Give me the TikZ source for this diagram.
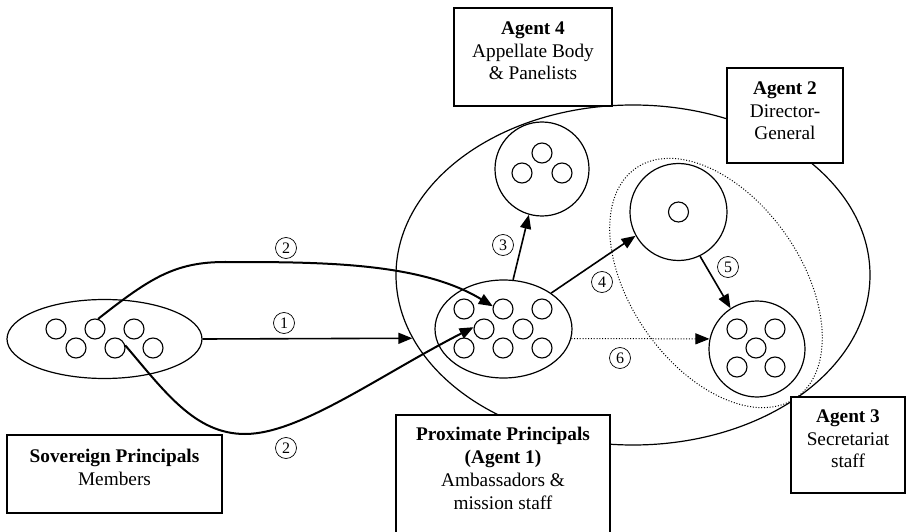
\documentclass[tikz,border=0pt]{standalone}
\usepackage{fontspec}
\setmainfont{Liberation Serif}
\usetikzlibrary{shapes.geometric,arrows.meta,positioning}
\tikzset{
  member/.style={circle,draw,line width=1.1pt,minimum size=20pt,inner sep=0pt},
  group/.style={ellipse,draw,line width=1.2pt,inner sep=0pt},
  agentcirc/.style={circle,draw,line width=1.2pt,inner sep=0pt},
  agentbox/.style={rectangle,draw,fill=white,line width=1.2pt,inner sep=0pt},
  boxtext/.style={align=center,inner sep=0pt,font=\fontsize{19.3}{22.8}\selectfont},
  stepnum/.style={circle,draw,line width=0.7pt,minimum size=21pt,inner sep=0pt,font=\fontsize{16}{16}\selectfont},
  link/.style={line width=1.6pt,-{Triangle[length=14pt,width=11pt]}},
  dots/.style={line width=1pt,dash pattern=on 1pt off 1.8pt},
}
\begin{document}
\begin{tikzpicture}[x=1pt,y=-1pt]
\useasboundingbox (0,0) rectangle (906,532);
% organisation and secretariat
\node[group,minimum width=474pt,minimum height=340pt] (wto) at (633,275) {};
\node[group,dots,rotate=-55,minimum width=280pt,minimum height=170pt] (secr) at (716,283) {};

% members
\node[group,minimum width=195pt,minimum height=79pt] (sov) at (104.5,339) {};
\foreach \n/\x/\y in {1/56/329,2/95/329,3/134/329,4/76/348,5/115/348,6/153/348}
  \node[member] (m\n) at (\x,\y) {};

% ambassadors
\node[group,minimum width=137pt,minimum height=98pt] (prox) at (503.5,329) {};
\foreach \n/\x/\y in {1/464/309,2/503/309,3/542/309,4/484/329,5/523/329,6/464/348,7/503/348,8/542/348}
  \node[member] (p\n) at (\x,\y) {};

% agents
\node[agentcirc,minimum size=94pt] (appc) at (542,169) {};
\foreach \n/\x/\y in {1/542/153,2/522/173,3/562/173}
  \node[member] (a\n) at (\x,\y) {};
\node[agentcirc,minimum size=97pt] (dgc) at (678.5,212) {};
\node[member] (dg) at (678.5,212) {};
\node[agentcirc,minimum size=96pt] (secc) at (757,349) {};
\foreach \n/\x/\y in {1/737/329,2/775/329,3/756/348,4/737/367,5/775/367}
  \node[member] (s\n) at (\x,\y) {};

% boxes
\node[agentbox,minimum width=158pt,minimum height=98pt] (appbox) at (533,57) {};
\node[boxtext,below=14pt of appbox.north] (apptxt) {\textbf{Agent 4}\\Appellate Body\\\& Panelists};
\node[agentbox,minimum width=116pt,minimum height=95pt] (dgbox) at (785,115.5) {};
\node[boxtext,below=14pt of dgbox.north] (dgtxt) {\textbf{Agent 2}\\Director-\\General};
\node[agentbox,minimum width=114pt,minimum height=96pt] (secbox) at (848,445) {};
\node[boxtext,below=13pt of secbox.north] (sectxt) {\textbf{Agent 3}\\Secretariat\\staff};
\node[agentbox,minimum width=214pt,minimum height=130pt] (proxbox) at (503,480) {};
\node[boxtext,below=13pt of proxbox.north] (proxtxt) {\textbf{Proximate Principals}\\\textbf{(Agent 1)}\\Ambassadors \&\\mission staff};
\node[agentbox,minimum width=215pt,minimum height=78pt] (sovbox) at (114.5,474) {};
\node[boxtext,below=15pt of sovbox.north] (sovtxt) {\textbf{Sovereign Principals}\\Members};

% delegation
\draw[link] (sov.east) -- (wto.196);
\draw[link,line width=2pt] (m2.73) .. controls (150,278) and (175,262) .. (225,262)
  .. controls (320,262) and (420,262) .. (p2.165);
\draw[link,line width=2pt] (m5.15) .. controls (165,392) and (195,434) .. (245,434)
  .. controls (300,434) and (380,375) .. (p4.170);
\draw[link] (prox.79) -- (appc.254);
\draw[link] (prox.37) -- (dgc.209);
\draw[link] (dgc.296) -- (secc.123);
\draw[link,dots] (prox.-8) -- (secc.168);

\node[stepnum] (n1) at (284,323) {1};
\node[stepnum] (n2a) at (286,248) {2};
\node[stepnum] (n2b) at (286,448) {2};
\node[stepnum] (n3) at (503,245) {3};
\node[stepnum] (n4) at (602,282) {4};
\node[stepnum] (n5) at (728,267) {5};
\node[stepnum] (n6) at (620,358) {6};
\end{tikzpicture}
\end{document}
